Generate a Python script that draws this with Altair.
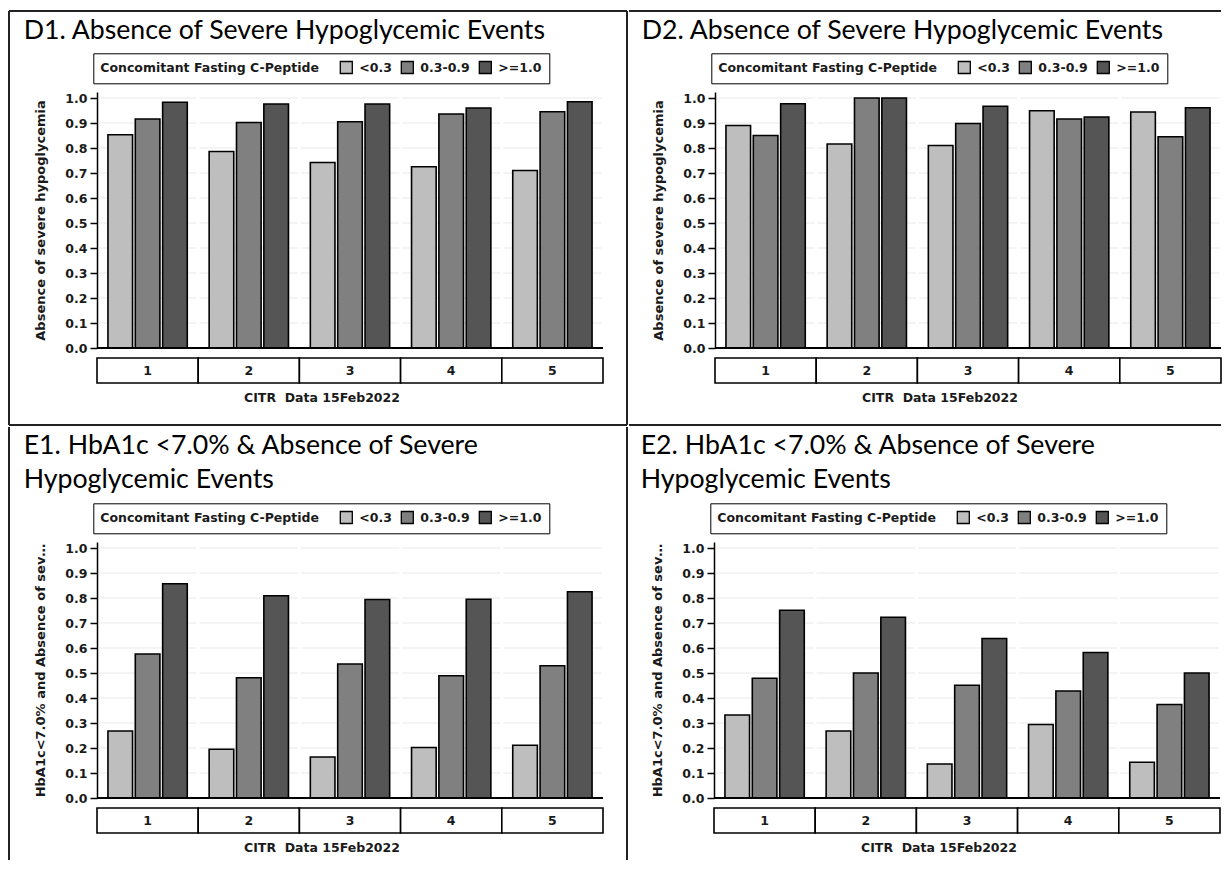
import altair as alt
import pandas as pd

# ---------------- data ----------------
groups = ["1", "2", "3", "4", "5"]
series = ["<0.3", "0.3-0.9", ">=1.0"]
colors = ["#bebebe", "#808080", "#555555"]
ytick_values = [0.0, 0.1, 0.2, 0.3, 0.4, 0.5, 0.6, 0.7, 0.8, 0.9, 1.0]

d1_low = [0.853, 0.786, 0.742, 0.725, 0.710]
d1_mid = [0.916, 0.902, 0.905, 0.936, 0.945]
d1_high = [0.983, 0.976, 0.976, 0.960, 0.985]

d2_low = [0.890, 0.816, 0.810, 0.949, 0.944]
d2_mid = [0.850, 1.000, 0.898, 0.916, 0.845]
d2_high = [0.977, 1.000, 0.967, 0.924, 0.961]

e1_low = [0.268, 0.195, 0.164, 0.202, 0.211]
e1_mid = [0.576, 0.481, 0.536, 0.489, 0.529]
e1_high = [0.857, 0.809, 0.794, 0.795, 0.825]

e2_low = [0.332, 0.268, 0.136, 0.294, 0.143]
e2_mid = [0.479, 0.500, 0.451, 0.428, 0.374]
e2_high = [0.751, 0.723, 0.638, 0.582, 0.500]

title_d1 = "D1. Absence of Severe Hypoglycemic Events"
title_d2 = "D2. Absence of Severe Hypoglycemic Events"
title_e1 = "E1. HbA1c <7.0% & Absence of Severe\nHypoglycemic Events"
title_e2 = "E2. HbA1c <7.0% & Absence of Severe\nHypoglycemic Events"
ytitle_d = "Absence of severe hypoglycemia"
ytitle_e = "HbA1c<7.0% and Absence of severe hypoglycemia"
legend_title = "Concomitant Fasting C-Peptide"
footer = "CITR\u00a0 Data 15Feb2022"

# ---------------- styling ----------------
W, H = 506, 256
SMALL = "DejaVu Sans"
TXT = "#1a1a1a"


def bars_df(low, mid, high):
    rows = []
    for i, g in enumerate(groups):
        for s, vals in zip(series, [low, mid, high]):
            rows.append({"g": g, "s": s, "v": vals[i]})
    return pd.DataFrame(rows)


def hrule(y, x1, x2, visible=True):
    return alt.Chart(pd.DataFrame({"a": [0]})).mark_rule(
        color="#222222", strokeWidth=2, opacity=1 if visible else 0
    ).encode(x=alt.value(x1), x2=alt.value(x2), y=alt.value(y))


def vrule(x, y1, y2, visible=True):
    return alt.Chart(pd.DataFrame({"a": [0]})).mark_rule(
        color="#222222", strokeWidth=2, opacity=1 if visible else 0
    ).encode(x=alt.value(x), y=alt.value(y1), y2=alt.value(y2))


def panel(low, mid, high, title, ytitle, title_y, borders):
    xscale = alt.Scale(domain=groups, paddingInner=0, paddingOuter=0)
    yscale = alt.Scale(domain=[0, 1.024], nice=False, zero=True)
    yaxis = alt.Axis(
        values=ytick_values, format=".1f", grid=False,
        domainColor="black", domainWidth=1.5,
        tickColor="black", tickWidth=1.5, tickSize=7,
        labelFont=SMALL, labelFontSize=12.5, labelFontWeight="bold",
        labelColor=TXT, labelPadding=3,
        title=ytitle, titleFont=SMALL, titleFontSize=13, titleFontWeight="bold",
        titleColor=TXT, titlePadding=17, titleLimit=H,
    )
    legend = alt.Legend(
        orient="none", legendX=-3.7, legendY=-38.7, direction="horizontal",
        title=legend_title, titleOrient="left", titleFont=SMALL, titleFontSize=12.5,
        titleFontWeight="bold", titleColor=TXT, titlePadding=20, titleLimit=400,
        labelFont=SMALL, labelFontSize=12.5, labelFontWeight="bold",
        labelColor=TXT, labelOffset=6,
        symbolType="square", symbolSize=144, symbolStrokeColor="black",
        symbolStrokeWidth=1.3, symbolOpacity=1, columnPadding=6,
        strokeColor="black", padding=7, fillColor="white",
    )

    grid_rows = [{"g": g, "v": v} for g in groups for v in ytick_values[1:]]
    grid = alt.Chart(pd.DataFrame(grid_rows)).mark_tick(
        color="#e0e0e0", thickness=1, size=W / len(groups) - 3
    ).encode(
        x=alt.X("g:N", scale=xscale, axis=None),
        y=alt.Y("v:Q", scale=yscale, axis=yaxis),
    )

    bars = alt.Chart(bars_df(low, mid, high)).mark_bar(
        stroke="black", strokeWidth=1.6
    ).encode(
        x=alt.X("g:N", scale=xscale, axis=None),
        xOffset=alt.XOffset("s:N", scale=alt.Scale(domain=series, paddingInner=0.1, paddingOuter=0.4)),
        y=alt.Y("v:Q", scale=yscale, axis=yaxis),
        color=alt.Color("s:N", scale=alt.Scale(domain=series, range=colors), legend=legend),
    )

    base = alt.Chart(pd.DataFrame({"v": [0.0]})).mark_rule(
        color="black", strokeWidth=2
    ).encode(y=alt.Y("v:Q", scale=yscale, axis=yaxis))

    boxes = alt.Chart(pd.DataFrame({"g": groups})).mark_rect(
        fill="white", stroke="black", strokeWidth=1.6
    ).encode(
        x=alt.X("g:N", scale=xscale, axis=None),
        y=alt.value(266), y2=alt.value(291),
    )

    box_labels = alt.Chart(pd.DataFrame({"g": groups})).mark_text(
        font=SMALL, fontSize=12.5, fontWeight="bold", color=TXT, baseline="middle"
    ).encode(
        x=alt.X("g:N", scale=xscale, axis=None),
        y=alt.value(278.5), text="g:N",
    )

    foot = alt.Chart(pd.DataFrame({"t": [footer]})).mark_text(
        font=SMALL, fontSize=12.5, fontWeight="bold", color=TXT,
        baseline="middle", align="center"
    ).encode(x=alt.value(225), y=alt.value(306), text="t:N")

    ttl = alt.Chart(pd.DataFrame({"t": [title]})).mark_text(
        font="Lato", fontSize=26.7, color="black", align="left",
        baseline="alphabetic", lineBreak="\n", lineHeight=34,
    ).encode(x=alt.value(-73.3), y=alt.value(title_y), text="t:N")

    layers = [grid, bars, base, boxes, box_labels, foot, ttl] + borders
    return alt.layer(*layers).properties(width=W, height=H)


D_TOP, D_BOT = -81, 333
E_TOP, E_BOT = -115, 318

d1 = panel(d1_low, d1_mid, d1_high, title_d1, ytitle_d, -52.7, [
    hrule(D_TOP, -88, 530), hrule(D_BOT, -88, 530),
    vrule(-88, D_TOP, D_BOT), vrule(530, D_TOP, D_BOT),
])
d2 = panel(d2_low, d2_mid, d2_high, title_d2, ytitle_d, -52.7, [
    hrule(D_TOP, -86, W), hrule(D_BOT, -86, W),
    vrule(-86, D_TOP, D_BOT, visible=False),
])
e1 = panel(e1_low, e1_mid, e1_high, title_e1, ytitle_e, -87.7, [
    hrule(E_TOP, -88, 530, visible=False),
    vrule(-88, E_TOP, E_BOT), vrule(530, E_TOP, E_BOT),
])
e2 = panel(e2_low, e2_mid, e2_high, title_e2, ytitle_e, -87.7, [
    hrule(E_TOP, -86, W, visible=False),
    vrule(-86, E_TOP, E_BOT, visible=False),
])

row1 = alt.hconcat(d1, d2, spacing=0).resolve_scale(color="independent").resolve_legend(color="independent")
row2 = alt.hconcat(e1, e2, spacing=0).resolve_scale(color="independent").resolve_legend(color="independent")

chart = (
    alt.vconcat(row1, row2, spacing=0)
    .resolve_scale(color="independent")
    .resolve_legend(color="independent")
    .properties(padding={"left": 0, "top": 2, "right": 0, "bottom": 0}, background="white")
    .configure_view(strokeWidth=0)
)

chart.save("out.html", embed_options={"renderer": "svg", "actions": False})
